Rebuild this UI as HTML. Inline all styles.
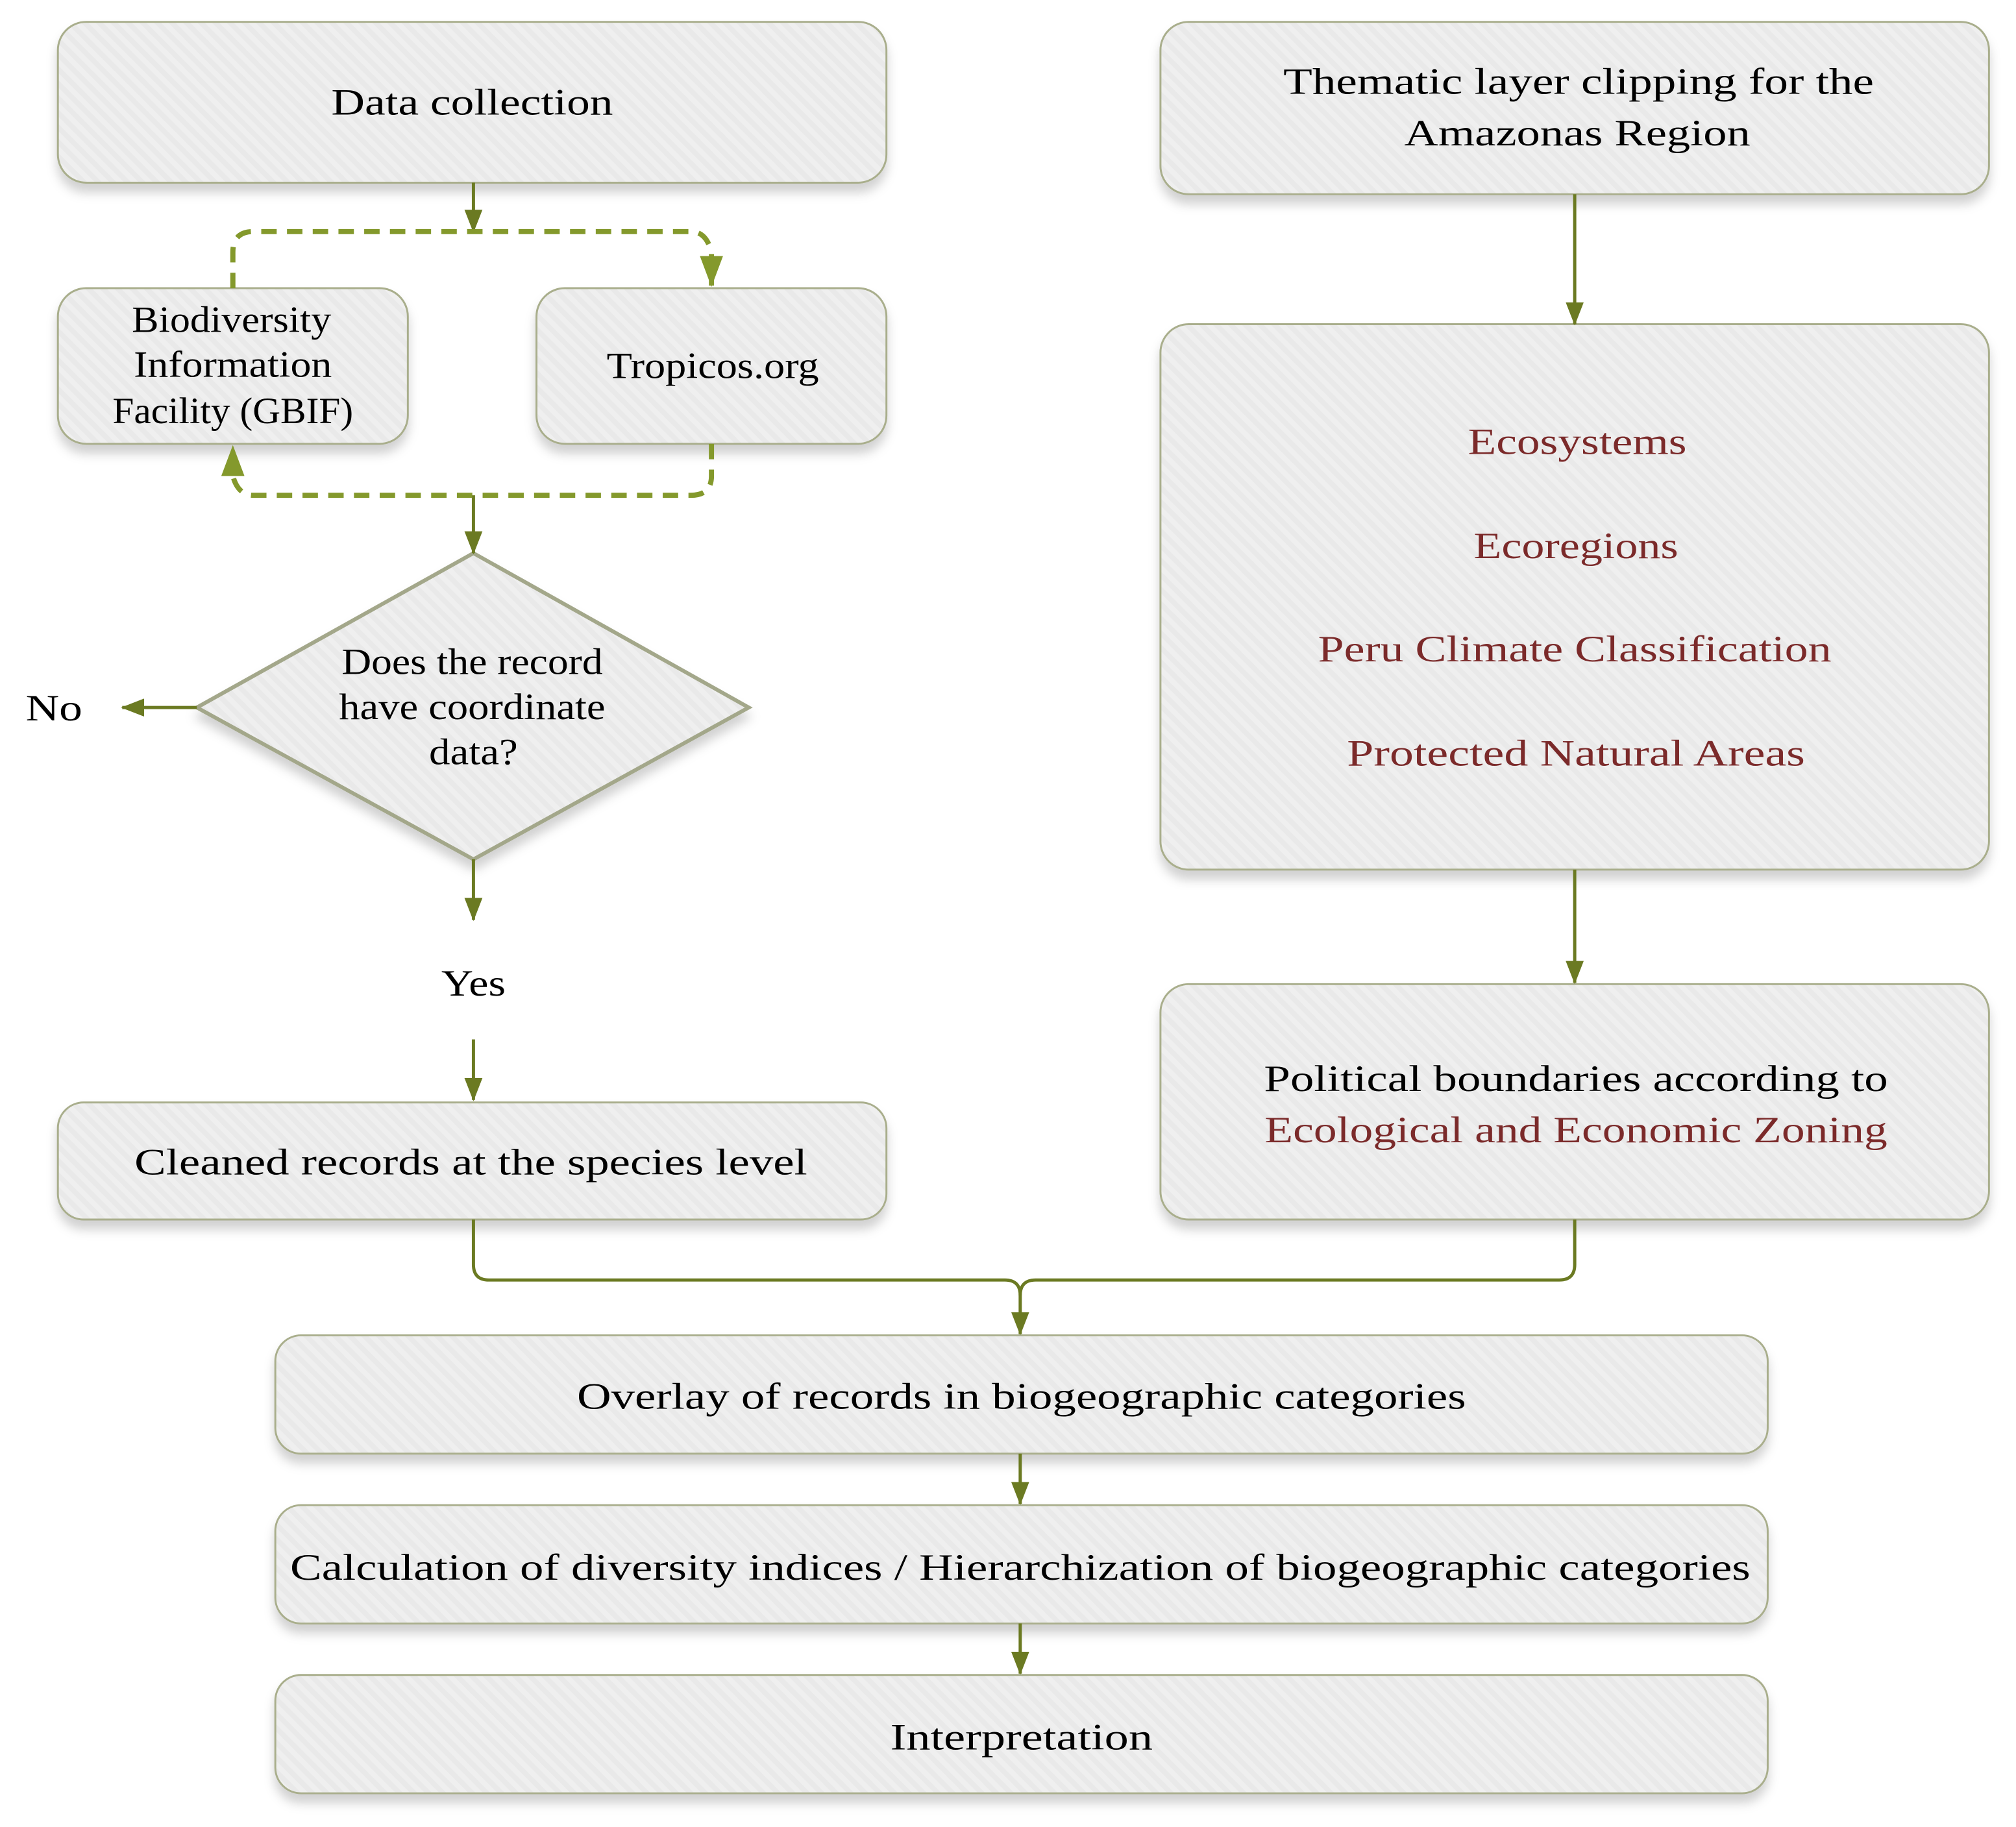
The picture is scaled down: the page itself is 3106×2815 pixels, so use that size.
<!DOCTYPE html>
<html><head><meta charset="utf-8"><style>html,body{margin:0;padding:0;background:#fff}svg{display:block}</style></head>
<body>
<svg width="3106" height="2815" viewBox="0 0 1567 1420.2" preserveAspectRatio="none" xmlns="http://www.w3.org/2000/svg" font-family="Liberation Serif, serif" font-size="29">
<defs>
<pattern id="st" width="8" height="8" patternUnits="userSpaceOnUse" patternTransform="rotate(-45)">
<rect width="8" height="8" fill="#efefef"/><rect width="4" height="8" fill="#e9e9e9"/></pattern>
<filter id="sh" x="-5%" y="-10%" width="110%" height="130%"><feDropShadow dx="0" dy="7" stdDeviation="4" flood-color="#000" flood-opacity="0.18"/></filter>
<marker id="ar" markerWidth="18" markerHeight="14" refX="17" refY="7" orient="auto" markerUnits="userSpaceOnUse" viewBox="0 0 18 14"><path d="M0,0 L18,7 L0,14z" fill="#6b7a22"/></marker>
<marker id="ar2" markerWidth="24" markerHeight="18" refX="23" refY="9" orient="auto" markerUnits="userSpaceOnUse" viewBox="0 0 24 18"><path d="M0,0 L24,9 L0,18z" fill="#84992c"/></marker>
</defs>
<g fill="url(#st)" stroke="#a9ae8c" stroke-width="1.5" filter="url(#sh)">
<rect x="45" y="17" width="644" height="125" rx="22"/>
<rect x="45" y="224" width="272" height="121" rx="22"/>
<rect x="417" y="224" width="272" height="121" rx="22"/>
<path d="M368,430 L582,550 L368,668 L153,550z" stroke="#a3a78a" stroke-width="3"/>
<rect x="45" y="857" width="644" height="91" rx="20"/>
<rect x="902" y="17" width="644" height="134" rx="22"/>
<rect x="902" y="252" width="644" height="424" rx="22"/>
<rect x="902" y="765" width="644" height="183" rx="22"/>
<rect x="214" y="1038" width="1160" height="92" rx="20"/>
<rect x="214" y="1170" width="1160" height="92" rx="20"/>
<rect x="214" y="1302" width="1160" height="92" rx="20"/>
</g>
<g stroke="#6b7a22" stroke-width="2.5" fill="none">
<path d="M368,142 V180" marker-end="url(#ar)"/>
<path d="M368,385 V430" marker-end="url(#ar)"/>
<path d="M153,550 H95" marker-end="url(#ar)"/>
<path d="M368,668 V715" marker-end="url(#ar)"/>
<path d="M368,808 V855" marker-end="url(#ar)"/>
<path d="M1224,151 V252" marker-end="url(#ar)"/>
<path d="M1224,676 V764" marker-end="url(#ar)"/>
<path d="M368,948 V983 Q368,995 380,995 H781 Q793,995 793,1007 V1037" marker-end="url(#ar)"/>
<path d="M1224,948 V983 Q1224,995 1212,995 H805 Q793,995 793,1007"/>
<path d="M793,1130 V1169" marker-end="url(#ar)"/>
<path d="M793,1262 V1301" marker-end="url(#ar)"/>
</g>
<g stroke="#84992c" stroke-width="4" fill="none" stroke-dasharray="12,8">
<path d="M181,224 V196 Q181,180 197,180 H537 Q549,180 553,196 V222" marker-end="url(#ar2)"/>
<path d="M553,345 V370 Q553,385 537,385 H197 Q185,385 181,370 V347" marker-end="url(#ar2)"/>
</g>
<g text-anchor="middle" fill="#000">
<text x="367" y="89" textLength="219" lengthAdjust="spacingAndGlyphs">Data collection</text>
<text x="180" y="258" textLength="155" lengthAdjust="spacingAndGlyphs">Biodiversity</text>
<text x="181" y="293" textLength="154" lengthAdjust="spacingAndGlyphs">Information</text>
<text x="181" y="329" textLength="187" lengthAdjust="spacingAndGlyphs">Facility (GBIF)</text>
<text x="554" y="294" textLength="165" lengthAdjust="spacingAndGlyphs">Tropicos.org</text>
<text x="367" y="524" textLength="203" lengthAdjust="spacingAndGlyphs">Does the record</text>
<text x="367" y="559" textLength="207" lengthAdjust="spacingAndGlyphs">have coordinate</text>
<text x="368" y="594" textLength="69" lengthAdjust="spacingAndGlyphs">data?</text>
<text x="42" y="560" textLength="44" lengthAdjust="spacingAndGlyphs">No</text>
<text x="368" y="774" textLength="50" lengthAdjust="spacingAndGlyphs">Yes</text>
<text x="366" y="913" textLength="523" lengthAdjust="spacingAndGlyphs">Cleaned records at the species level</text>
<text x="1227" y="73" textLength="459" lengthAdjust="spacingAndGlyphs">Thematic layer clipping for the</text>
<text x="1226" y="113" textLength="269" lengthAdjust="spacingAndGlyphs">Amazonas Region</text>
<g fill="#7b2a2a">
<text x="1226" y="353" textLength="170" lengthAdjust="spacingAndGlyphs">Ecosystems</text>
<text x="1225" y="434" textLength="159" lengthAdjust="spacingAndGlyphs">Ecoregions</text>
<text x="1224" y="514" textLength="399" lengthAdjust="spacingAndGlyphs">Peru Climate Classification</text>
<text x="1225" y="595" textLength="356" lengthAdjust="spacingAndGlyphs">Protected Natural Areas</text>
<text x="1225" y="888" textLength="484" lengthAdjust="spacingAndGlyphs">Ecological and Economic Zoning</text>
</g>
<text x="1225" y="848" textLength="485" lengthAdjust="spacingAndGlyphs">Political boundaries according to</text>
<text x="794" y="1095" textLength="691" lengthAdjust="spacingAndGlyphs">Overlay of records in biogeographic categories</text>
<text x="793" y="1228" textLength="1135" lengthAdjust="spacingAndGlyphs">Calculation of diversity indices / Hierarchization of biogeographic categories</text>
<text x="794" y="1360" textLength="204" lengthAdjust="spacingAndGlyphs">Interpretation</text>
</g>
</svg>
</body></html>
